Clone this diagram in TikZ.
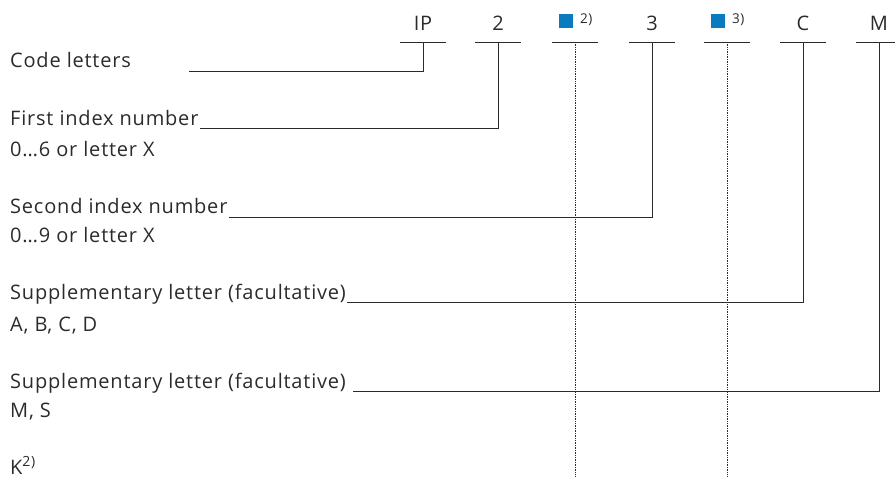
\documentclass[tikz,border=0pt]{standalone}
\usepackage{fontspec}
\setmainfont{Open Sans}[LetterSpace=4]
\usetikzlibrary{positioning,calc}
\definecolor{markblue}{HTML}{0A7BC1}
\definecolor{inkgray}{HTML}{2B2B2B}
\tikzset{
  code/.style={anchor=base, inner sep=0pt, text=inkgray, font=\fontsize{20}{22}\selectfont},
  lbl/.style={anchor=base west, inner sep=0pt, text=inkgray, font=\fontsize{20}{22}\selectfont},
  note/.style={anchor=base west, inner sep=0pt, text=inkgray, font=\fontsize{13.5}{15}\selectfont},
  marker/.style={fill=markblue, minimum size=14pt, inner sep=0pt},
  bar/.style={draw=inkgray, line width=0.9pt},
  lead/.style={draw=inkgray, line width=0.9pt},
  guide/.style={draw=inkgray, densely dotted, line width=0.7pt},
}

\begin{document}
\begin{tikzpicture}[x=1pt, y=-1pt]
\useasboundingbox (0,0) rectangle (895,477);

% code heading
\foreach \x/\n/\t in {423/ip/IP, 498/first/2, 652/second/3, 803/supc/C, 879/supm/M} {
  \node[code] (\n) at (\x,30) {\t};
  \coordinate (\n bar) at (\x,42);
  \draw[bar] (\x-23,42) -- (\x+23,42);
}
\foreach \x/\n/\t in {575/mA/2), 727/mB/3)} {
  \node[marker] (\n) at (\x-9,21.3) {};
  \node[note] (\n note) at (\x+5,23) {\t};
  \coordinate (\n bar) at (\x,42);
  \draw[bar] (\x-23,42) -- (\x+23,42);
}

% labels
\node[lbl] (lcode)   at (10,67)    {Code letters};
\node[lbl] (lfirst)  at (10,125)   {First index number};
\node[lbl] (lfirstb) at (10,156.5) {0…6 or letter X};
\node[lbl] (lsec)    at (10,213.5) {Second index number};
\node[lbl] (lsecb)   at (10,242.5) {0…9 or letter X};
\node[lbl] (lsupc)   at (10,299)   {Supplementary letter (facultative)};
\node[lbl] (lsupcb)  at (10,331)   {A, B, C, D};
\node[lbl] (lsupm)   at (10,388.5) {Supplementary letter (facultative)};
\node[lbl] (lsupmb)  at (10,417)   {M, S};
\node[lbl] (lk)      at (10,474)   {K\textsuperscript{2)}};

% leader lines
\coordinate (codestart) at (189,71);
\draw[lead] (codestart) -| (ipbar);
\draw[lead] ($(lfirst.base east)+(1,3.5)$) -| (firstbar);
\draw[lead] ($(lsec.base east)+(1,3.5)$) -| (secondbar);
\draw[lead] ($(lsupc.base east)+(1,3)$) -| (supcbar);
\draw[lead] ($(lsupm.base east)+(7,3)$) -| (supmbar);

% optional positions
\draw[guide] (mAbar) -- (575,477);
\draw[guide] (mBbar) -- (727,477);
\end{tikzpicture}
\end{document}
